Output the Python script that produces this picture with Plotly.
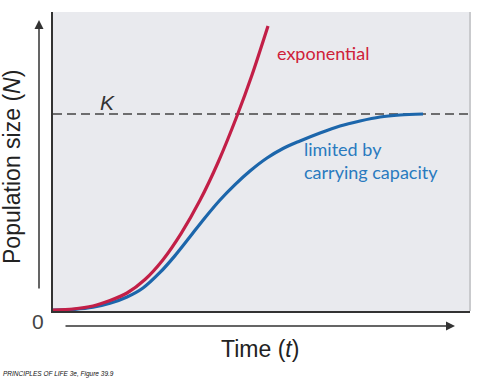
import plotly.graph_objects as go

# Data (time and population size in arbitrary units, 0-100 axes)
exp_time = [0, 4.80, 9.59, 13.67, 17.75, 22.06, 26.38, 30.70, 35.25, 39.57,
            44.12, 47.72, 51.56]
exp_pop = [0.33, 0.67, 1.67, 3.51, 6.02, 10.54, 17.16, 25.89, 37.02, 49.67,
           65.22, 78.93, 95.32]

log_time = [0, 5.28, 9.59, 13.67, 17.75, 21.58, 25.66, 29.26, 32.85, 36.45, 40.05,
            43.65, 47.24, 51.32, 55.16, 59.23, 64.03, 68.82, 73.62, 78.42, 83.21, 88.73]
log_pop = [0.33, 0.57, 1.24, 2.58, 4.68, 7.69, 12.88, 18.53, 24.82, 31.19, 37.12,
           42.27, 46.82, 51.17, 54.35, 56.86, 59.53, 61.87, 63.55, 64.88, 65.55, 65.89]

K = 65.9
k_time = [0, 100]

RED = "#c21f47"
BLUE = "#1c66ab"

fig = go.Figure()
fig.add_trace(go.Scatter(x=k_time, y=[K, K], mode="lines",
                         line=dict(color="#444444", width=1.5, dash="9px,5px"),
                         hoverinfo="skip"))
fig.add_trace(go.Scatter(x=log_time, y=log_pop, mode="lines",
                         line=dict(color=BLUE, width=3.2, shape="spline", smoothing=0.9)))
fig.add_trace(go.Scatter(x=exp_time, y=exp_pop, mode="lines",
                         line=dict(color=RED, width=3.2, shape="spline", smoothing=0.8)))

fig.update_layout(
    width=477, height=379,
    margin=dict(l=53, r=7, t=12, b=68),
    paper_bgcolor="white",
    plot_bgcolor="#e9eaee",
    showlegend=False,
    xaxis=dict(range=[0, 100], showgrid=False, zeroline=False, showticklabels=False,
               showline=True, linecolor="#333333", linewidth=2, ticks=""),
    yaxis=dict(range=[0, 100], showgrid=False, zeroline=False, showticklabels=False,
               showline=True, linecolor="#333333", linewidth=2, ticks=""),
)

# right edge shadow
fig.add_shape(type="line", xref="paper", yref="paper", x0=1, x1=1, y0=0, y1=1,
              line=dict(color="#c9cacd", width=2))


def px(xp):
    return (xp - 53) / 417


def py(yp):
    return (311 - yp) / 299


# Axis arrows
fig.add_annotation(xref="paper", yref="paper", x=px(39), y=py(20),
                   ax=0, ay=270, showarrow=True, arrowhead=2, arrowsize=1.2,
                   arrowwidth=1.5, arrowcolor="#333333", text="", standoff=0)
fig.add_annotation(xref="paper", yref="paper", x=px(455), y=py(326),
                   ax=-391, ay=0, showarrow=True, arrowhead=2, arrowsize=1.2,
                   arrowwidth=1.5, arrowcolor="#333333", text="", standoff=0)

AX_FONT = "Liberation Sans, Arial, sans-serif"
LBL_FONT = "Lato, Open Sans, sans-serif"


def label(x, y, text, size, color, family=AX_FONT, xanchor="center", angle=0, align="center"):
    fig.add_annotation(xref="paper", yref="paper", x=px(x), y=py(y), text=text,
                       showarrow=False, xanchor=xanchor, yanchor="middle",
                       textangle=angle, align=align,
                       font=dict(family=family, size=size, color=color))


label(38, 321, "0", 21, "#444444")
label(12, 167, "Population size (<i>N</i>)", 23, "#222222", angle=-90)
label(260, 349, "Time (<i>t</i>)", 23, "#222222")
label(107, 102, "<i>K</i>", 21, "#333333")
label(275, 53, "exponential", 18, "#cf2139", family=LBL_FONT, xanchor="left")
label(302, 160, "limited by<br>carrying capacity", 18, "#2a7bbf",
      family=LBL_FONT, xanchor="left", align="left")
label(1, 374, "<i>PRINCIPLES OF LIFE 3e, Figure 39.9</i>", 6.5, "#111111",
      family="Liberation Sans Narrow, Liberation Sans, sans-serif", xanchor="left")

# remove the browser's default 8px body margin so the figure sits at the page origin
fig.write_html("out.html", config={"displayModeBar": False},
               post_script="document.body.style.margin='0px';")
